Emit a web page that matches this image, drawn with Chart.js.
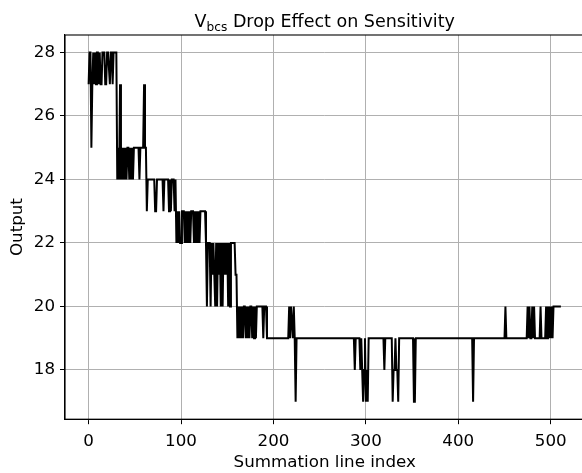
<!DOCTYPE html>
<html>
<head>
<meta charset="utf-8">
<script src="https://cdn.jsdelivr.net/npm/chart.js@4/dist/chart.umd.min.js"></script>
<style>
  html, body { margin: 0; padding: 0; background: #fff; overflow: hidden; width: 582px; height: 473px; }
  canvas { display: block; }
</style>
</head>
<body>
<canvas id="c" width="590" height="473"></canvas>
<script>
// ---- data ----
const titleMain = "V";
const titleSub = "bcs";
const titleRest = " Drop Effect on Sensitivity";
const xLabel = "Summation line index";
const yLabel = "Output";
const xTicks = [0, 100, 200, 300, 400, 500];
const yTicks = [18, 20, 22, 24, 26, 28];

// Output value for each summation line index 0..511
const outputs = [
  27,28,28,25,27,28,27,28,27,28, 28,27,28,27,27,28,28,28,27,27,
  28,28,28,27,28,28,27,28,28,28, 28,24,25,24,27,24,25,24,25,24,
  25,24,25,25,24,25,24,25,24,25, 25,25,25,25,25,24,25,25,25,25,
  27,25,25,23,24,24,24,24,24,24, 24,24,23,23,24,24,24,24,24,24,
  24,23,24,24,24,24,24,23,24,23, 24,24,24,23,24,22,23,22,23,22,
  22,23,23,23,22,23,22,23,22,23, 22,23,23,23,22,23,22,23,22,23,
  22,23,23,23,23,23,23,22,20,22, 22,22,20,22,21,22,21,20,22,20,
  22,21,22,20,22,20,22,21,22,21, 22,20,22,20,22,22,22,22,22,21,
  21,19,20,19,20,19,20,19,20,20, 19,20,19,20,19,20,20,19,20,19,
  20,19,20,20,20,20,20,20,20,19, 20,20,20,19,19,19,19,19,19,19,
  19,19,19,19,19,19,19,19,19,19, 19,19,19,19,19,19,19,20,19,20,
  20,19,20,19,17,19,19,19,19,19, 19,19,19,19,19,19,19,19,19,19,
  19,19,19,19,19,19,19,19,19,19, 19,19,19,19,19,19,19,19,19,19,
  19,19,19,19,19,19,19,19,19,19, 19,19,19,19,19,19,19,19,19,19,
  19,19,19,19,19,19,19,19,18,19, 19,19,19,19,18,19,18,17,18,19,
  17,18,17,19,19,19,19,19,19,19, 19,19,19,19,19,19,19,19,19,19,
  18,19,19,19,19,19,19,19,19,17, 18,18,19,18,18,17,19,19,19,19,
  19,19,19,19,19,19,19,19,19,19, 19,19,17,17,19,19,19,19,19,19,
  19,19,19,19,19,19,19,19,19,19, 19,19,19,19,19,19,19,19,19,19,
  19,19,19,19,19,19,19,19,19,19, 19,19,19,19,19,19,19,19,19,19,
  19,19,19,19,19,19,19,19,19,19, 19,19,19,19,19,19,17,19,19,19,
  19,19,19,19,19,19,19,19,19,19, 19,19,19,19,19,19,19,19,19,19,
  19,19,19,19,19,19,19,19,19,19, 19,20,19,19,19,19,19,19,19,19,
  19,19,19,19,19,19,19,19,19,19, 19,19,19,19,19,20,19,20,19,19,
  20,19,20,19,19,19,19,19,19,20, 19,19,19,19,19,20,19,20,19,20,
  19,20,19,20,20,20,20,20,20,20, 20,20
];

const FONT = "'DejaVu Sans', sans-serif";
const points = outputs.map((v, i) => ({ x: i, y: v }));

const decor = {
  id: 'decor',
  afterDraw(chart) {
    const ctx = chart.ctx;
    const a = chart.chartArea;
    ctx.save();
    // frame
    ctx.strokeStyle = '#000';
    ctx.lineWidth = 1.1;
    ctx.strokeRect(a.left, a.top, a.right - a.left, a.bottom - a.top);
    const cx = (a.left + a.right) / 2;
    // title with subscript
    ctx.fillStyle = '#000';
    ctx.textBaseline = 'alphabetic';
    ctx.textAlign = 'left';
    const big = "17.5px " + FONT, small = "12.2px " + FONT;
    ctx.font = big;
    const w1 = ctx.measureText(titleMain).width;
    const w3 = ctx.measureText(titleRest).width;
    ctx.font = small;
    const w2 = ctx.measureText(titleSub).width;
    let x = cx - (w1 + w2 + w3) / 2;
    const base = 27;
    ctx.font = big; ctx.fillText(titleMain, x, base); x += w1;
    ctx.font = small; ctx.fillText(titleSub, x, base + 3.7); x += w2;
    ctx.font = big; ctx.fillText(titleRest, x, base);
    // axis titles
    ctx.font = "16.7px " + FONT;
    ctx.textAlign = 'center';
    ctx.textBaseline = 'middle';
    ctx.fillText(xLabel, cx, 463);
    ctx.translate(18, (a.top + a.bottom) / 2);
    ctx.rotate(-Math.PI / 2);
    ctx.fillText(yLabel, 0, 0);
    ctx.restore();
  }
};

new Chart(document.getElementById('c'), {
  type: 'line',
  data: {
    datasets: [{
      data: points,
      borderColor: '#000',
      borderWidth: 2,
      pointRadius: 0,
      tension: 0,
      fill: false
    }]
  },
  options: {
    responsive: false,
    animation: false,
    devicePixelRatio: 1,
    layout: { padding: { top: 35, right: 5.5, left: 0, bottom: 0 } },
    plugins: { legend: { display: false }, title: { display: false }, tooltip: { enabled: false } },
    scales: {
      x: {
        type: 'linear',
        min: -25.55,
        max: 536.55,
        afterBuildTicks(s) { s.ticks = xTicks.map(v => ({ value: v })); },
        afterFit(s) { s.height = 53.8; },
        grid: { color: '#b0b0b0', lineWidth: 1, tickColor: '#000', tickLength: 5, drawTicks: true },
        border: { display: true, color: '#000', width: 1.1 },
        ticks: { color: '#000', font: { family: FONT, size: 16.7 }, padding: 7, maxRotation: 0, autoSkip: false }
      },
      y: {
        type: 'linear',
        min: 16.45,
        max: 28.55,
        afterBuildTicks(s) { s.ticks = yTicks.map(v => ({ value: v })); },
        afterFit(s) { s.width = 65; },
        grid: { color: '#b0b0b0', lineWidth: 1, tickColor: '#000', tickLength: 5, drawTicks: true },
        border: { display: true, color: '#000', width: 1.1 },
        ticks: { color: '#000', font: { family: FONT, size: 16.7 }, padding: 5, autoSkip: false }
      }
    }
  },
  plugins: [decor]
});
</script>
</body>
</html>
